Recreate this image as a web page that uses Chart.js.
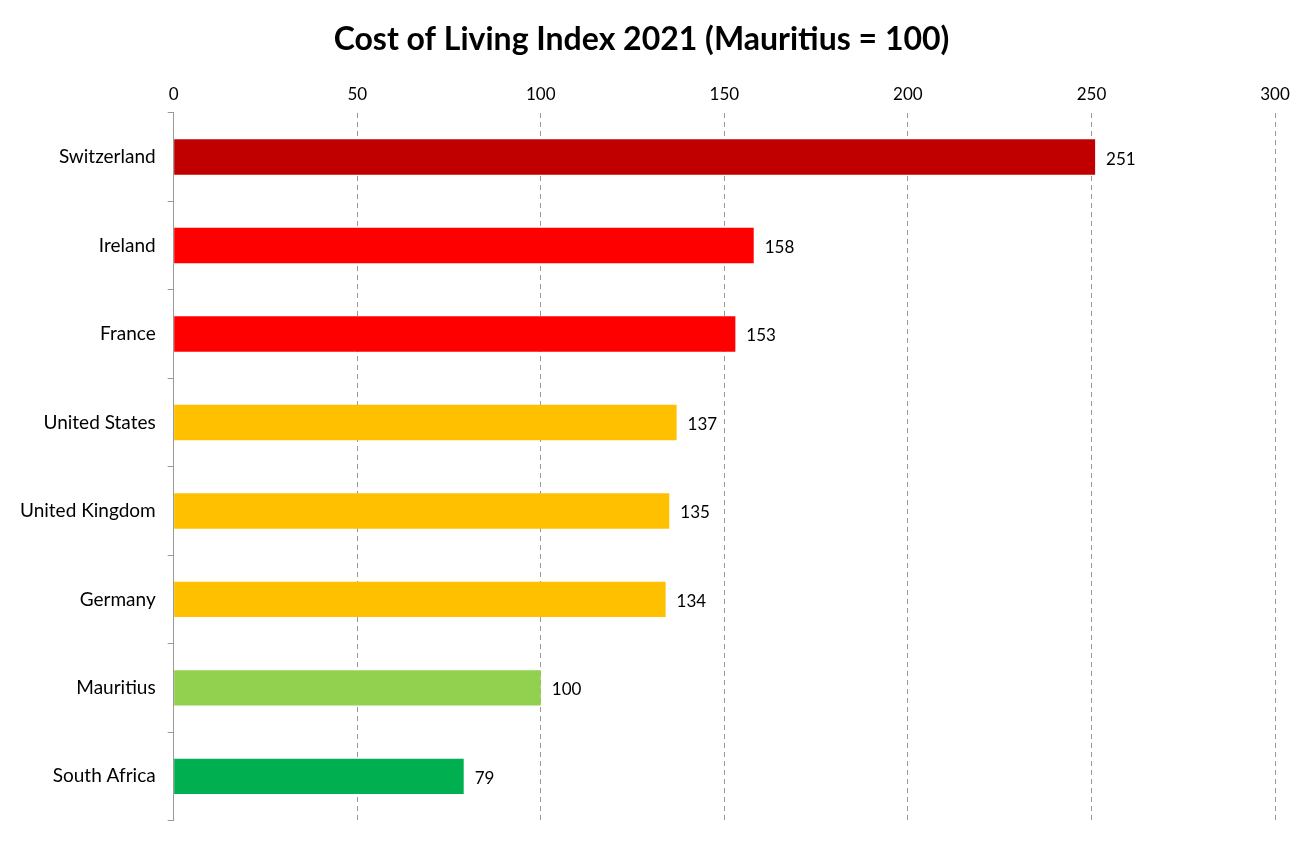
<!DOCTYPE html>
<html><head><meta charset="utf-8">
<script src="https://cdn.jsdelivr.net/npm/chart.js@4/dist/chart.umd.min.js"></script>
<style>html,body{margin:0;padding:0;background:#fff}#w{width:1305px;height:844px}</style>
</head><body><div id="w"><canvas id="c"></canvas></div>
<script>
const categories = ["Switzerland","Ireland","France","United States","United Kingdom","Germany","Mauritius","South Africa"];
const values = [251,158,153,137,135,134,100,79];
const barColors = ["#C00000","#FF0000","#FF0000","#FFC000","#FFC000","#FFC000","#92D050","#00B050"];
const xTicks = [0,50,100,150,200,250,300];

const labelPlugin = {
  id:'lbl',
  afterDatasetsDraw(chart){
    const ctx=chart.ctx; const meta=chart.getDatasetMeta(0);
    ctx.save(); ctx.font='17px Lato, "Open Sans", sans-serif'; ctx.fillStyle='#000';
    ctx.textAlign='left'; ctx.textBaseline='middle';
    meta.data.forEach((b,i)=>ctx.fillText(String(values[i]), b.x+11, b.y+2));
    ctx.restore();
  }
};
new Chart(document.getElementById('c'),{
  type:'bar',
  data:{labels:categories,datasets:[{data:values,backgroundColor:barColors,categoryPercentage:1,barPercentage:0.4}]},
  plugins:[labelPlugin],
  options:{
    indexAxis:'y',responsive:true,maintainAspectRatio:false,animation:false,
    layout:{padding:{left:8,right:30,bottom:22,top:0}},
    plugins:{legend:{display:false},tooltip:{enabled:false},
      title:{display:true,text:'Cost of Living Index 2021 (Mauritius = 100)',color:'#000',
        font:{family:'Lato, "Open Sans", sans-serif',size:32,weight:'bold'},padding:{top:20,bottom:18}}},
    scales:{
      x:{position:'top',min:0,max:300,
        ticks:{stepSize:50,color:'#000',font:{family:'Lato, "Open Sans", sans-serif',size:17},padding:8,
          callback:(v)=>xTicks.includes(v)?String(v):''},
        grid:{color:'#999',drawTicks:false,tickLength:0},
        border:{display:false,dash:[5,4]}},
      y:{grid:{offset:true,drawOnChartArea:false,color:'#999',tickLength:6},
        border:{display:true,color:'#999'},
        ticks:{color:'#000',font:{family:'Lato, "Open Sans", sans-serif',size:19},padding:12}}
    }
  }
});
</script></body></html>
